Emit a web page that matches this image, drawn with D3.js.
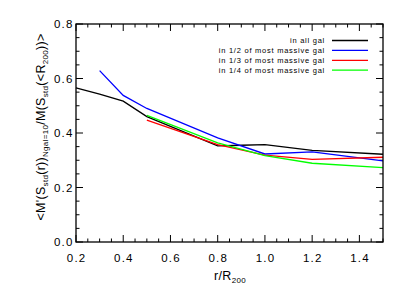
<!DOCTYPE html>
<html>
<head>
<meta charset="utf-8">
<script src="https://cdn.jsdelivr.net/npm/d3@7"></script>
<style>
  body { margin: 0; background: #fff; }
  svg { display: block; font-family: "Liberation Sans", "DejaVu Sans", sans-serif; }
  .tick-label { font-size: 11.5px; letter-spacing: 1.2px; fill: #000; }
  .legend-text { font-size: 7.5px; letter-spacing: 0.75px; fill: #000; }
  .axis-title { font-size: 12.5px; letter-spacing: 0.3px; fill: #000; }
</style>
</head>
<body>
<svg id="chart" width="407" height="291"></svg>
<script>
"use strict";

// radius bins (r/R200) and the profile ratio per galaxy subsample
const radiusAll = [0.2, 0.3, 0.4, 0.5, 0.8, 0.9, 1.0, 1.2, 1.5];
const ratioAll = [0.566, 0.543, 0.517, 0.46, 0.353, 0.355, 0.357, 0.336, 0.322];

const radiusHalf = [0.3, 0.4, 0.5, 0.8, 1.0, 1.2, 1.5];
const ratioHalf = [0.629, 0.538, 0.49, 0.382, 0.323, 0.331, 0.298];

const radiusThird = [0.5, 0.8, 1.0, 1.2, 1.5];
const ratioThird = [0.447, 0.357, 0.319, 0.303, 0.311];

const radiusQuarter = [0.5, 0.8, 1.0, 1.2, 1.5];
const ratioQuarter = [0.465, 0.364, 0.317, 0.289, 0.273];

const seriesNames = ["in all gal", "in 1/2 of most massive gal",
                     "in 1/3 of most massive gal", "in 1/4 of most massive gal"];
const seriesColors = ["#000000", "#0000ff", "#ff0000", "#00ff00"];

const xTicks = [0.2, 0.4, 0.6, 0.8, 1.0, 1.2, 1.4];
const yTicks = [0.0, 0.2, 0.4, 0.6, 0.8];

const series = [
  { xs: radiusAll, ys: ratioAll },
  { xs: radiusHalf, ys: ratioHalf },
  { xs: radiusThird, ys: ratioThird },
  { xs: radiusQuarter, ys: ratioQuarter },
].map((s, i) => ({
  name: seriesNames[i],
  color: seriesColors[i],
  points: s.xs.map((x, j) => [x, s.ys[j]]),
}));

const m = { left: 76, right: 383, top: 24, bottom: 242 };
const svg = d3.select("#chart");

const x = d3.scaleLinear().domain([0.2, 1.5]).range([m.left, m.right]);
const y = d3.scaleLinear().domain([0, 0.8]).range([m.bottom, m.top]);

// minor ticks every 0.05 on both axes (IDL style, on all four sides)
const xMinor = d3.range(0.2, 1.5001, 0.05).filter((v) => !xTicks.some((t) => Math.abs(t - v) < 1e-6));
const yMinor = d3.range(0, 0.8001, 0.05).filter((v) => !yTicks.some((t) => Math.abs(t - v) < 1e-6));
const MAJ = 7, MIN = 3.5;

const ticks = svg.append("g").attr("stroke", "#000").attr("stroke-width", 1);
xTicks.forEach((v) => {
  ticks.append("line").attr("x1", x(v)).attr("x2", x(v)).attr("y1", m.bottom).attr("y2", m.bottom - MAJ);
  ticks.append("line").attr("x1", x(v)).attr("x2", x(v)).attr("y1", m.top).attr("y2", m.top + MAJ);
});
xMinor.forEach((v) => {
  ticks.append("line").attr("x1", x(v)).attr("x2", x(v)).attr("y1", m.bottom).attr("y2", m.bottom - MIN);
  ticks.append("line").attr("x1", x(v)).attr("x2", x(v)).attr("y1", m.top).attr("y2", m.top + MIN);
});
yTicks.forEach((v) => {
  ticks.append("line").attr("y1", y(v)).attr("y2", y(v)).attr("x1", m.left).attr("x2", m.left + MAJ);
  ticks.append("line").attr("y1", y(v)).attr("y2", y(v)).attr("x1", m.right).attr("x2", m.right - MAJ);
});
yMinor.forEach((v) => {
  ticks.append("line").attr("y1", y(v)).attr("y2", y(v)).attr("x1", m.left).attr("x2", m.left + MIN);
  ticks.append("line").attr("y1", y(v)).attr("y2", y(v)).attr("x1", m.right).attr("x2", m.right - MIN);
});

// tick labels
svg.append("g").selectAll("text").data(xTicks).enter().append("text")
  .attr("class", "tick-label")
  .attr("x", (d) => x(d) + 0.6)
  .attr("y", 262)
  .attr("text-anchor", "middle")
  .text((d) => d.toFixed(1));

svg.append("g").selectAll("text").data(yTicks).enter().append("text")
  .attr("class", "tick-label")
  .attr("x", 73.5)
  .attr("y", (d) => y(d) + 4.2)
  .attr("text-anchor", "end")
  .text((d) => d.toFixed(1));

// curves
const line = d3.line().x((d) => x(d[0])).y((d) => y(d[1]));
svg.append("g").selectAll("path").data(series).enter().append("path")
  .attr("d", (d) => line(d.points))
  .attr("fill", "none")
  .attr("stroke", (d) => d.color)
  .attr("stroke-width", 1.3);

// frame
svg.append("rect")
  .attr("x", m.left).attr("y", m.top)
  .attr("width", m.right - m.left).attr("height", m.bottom - m.top)
  .attr("fill", "none").attr("stroke", "#000").attr("stroke-width", 1.3);

// legend, text right-aligned in front of the line sample
const legend = svg.append("g");
series.forEach((s, i) => {
  const ly = 40.5 + i * 9.9;
  legend.append("text").attr("class", "legend-text")
    .attr("x", 325).attr("y", ly + 2.6).attr("text-anchor", "end").text(s.name);
  legend.append("line").attr("x1", 332).attr("x2", 368).attr("y1", ly).attr("y2", ly)
    .attr("stroke", s.color).attr("stroke-width", 1.3);
});

// axis titles
const xt = svg.append("text").attr("class", "axis-title")
  .attr("x", 230).attr("y", 280).attr("text-anchor", "middle");
xt.append("tspan").text("r/R");
xt.append("tspan").attr("font-size", "8px").attr("dy", 3).text("200");

const yt = svg.append("text").attr("class", "axis-title")
  .attr("transform", "translate(45,127) rotate(-90)")
  .attr("text-anchor", "middle");
const sub = (t) => yt.append("tspan").attr("font-size", "8px").attr("dy", 3).text(t);
const up = (t) => yt.append("tspan").attr("dy", -3).text(t);
yt.append("tspan").text("<M'(S");
sub("std");
up("(r))");
sub("Ngal=10");
up("/M(S");
sub("std");
up("(<R");
sub("200");
up("))>");
</script>
</body>
</html>
